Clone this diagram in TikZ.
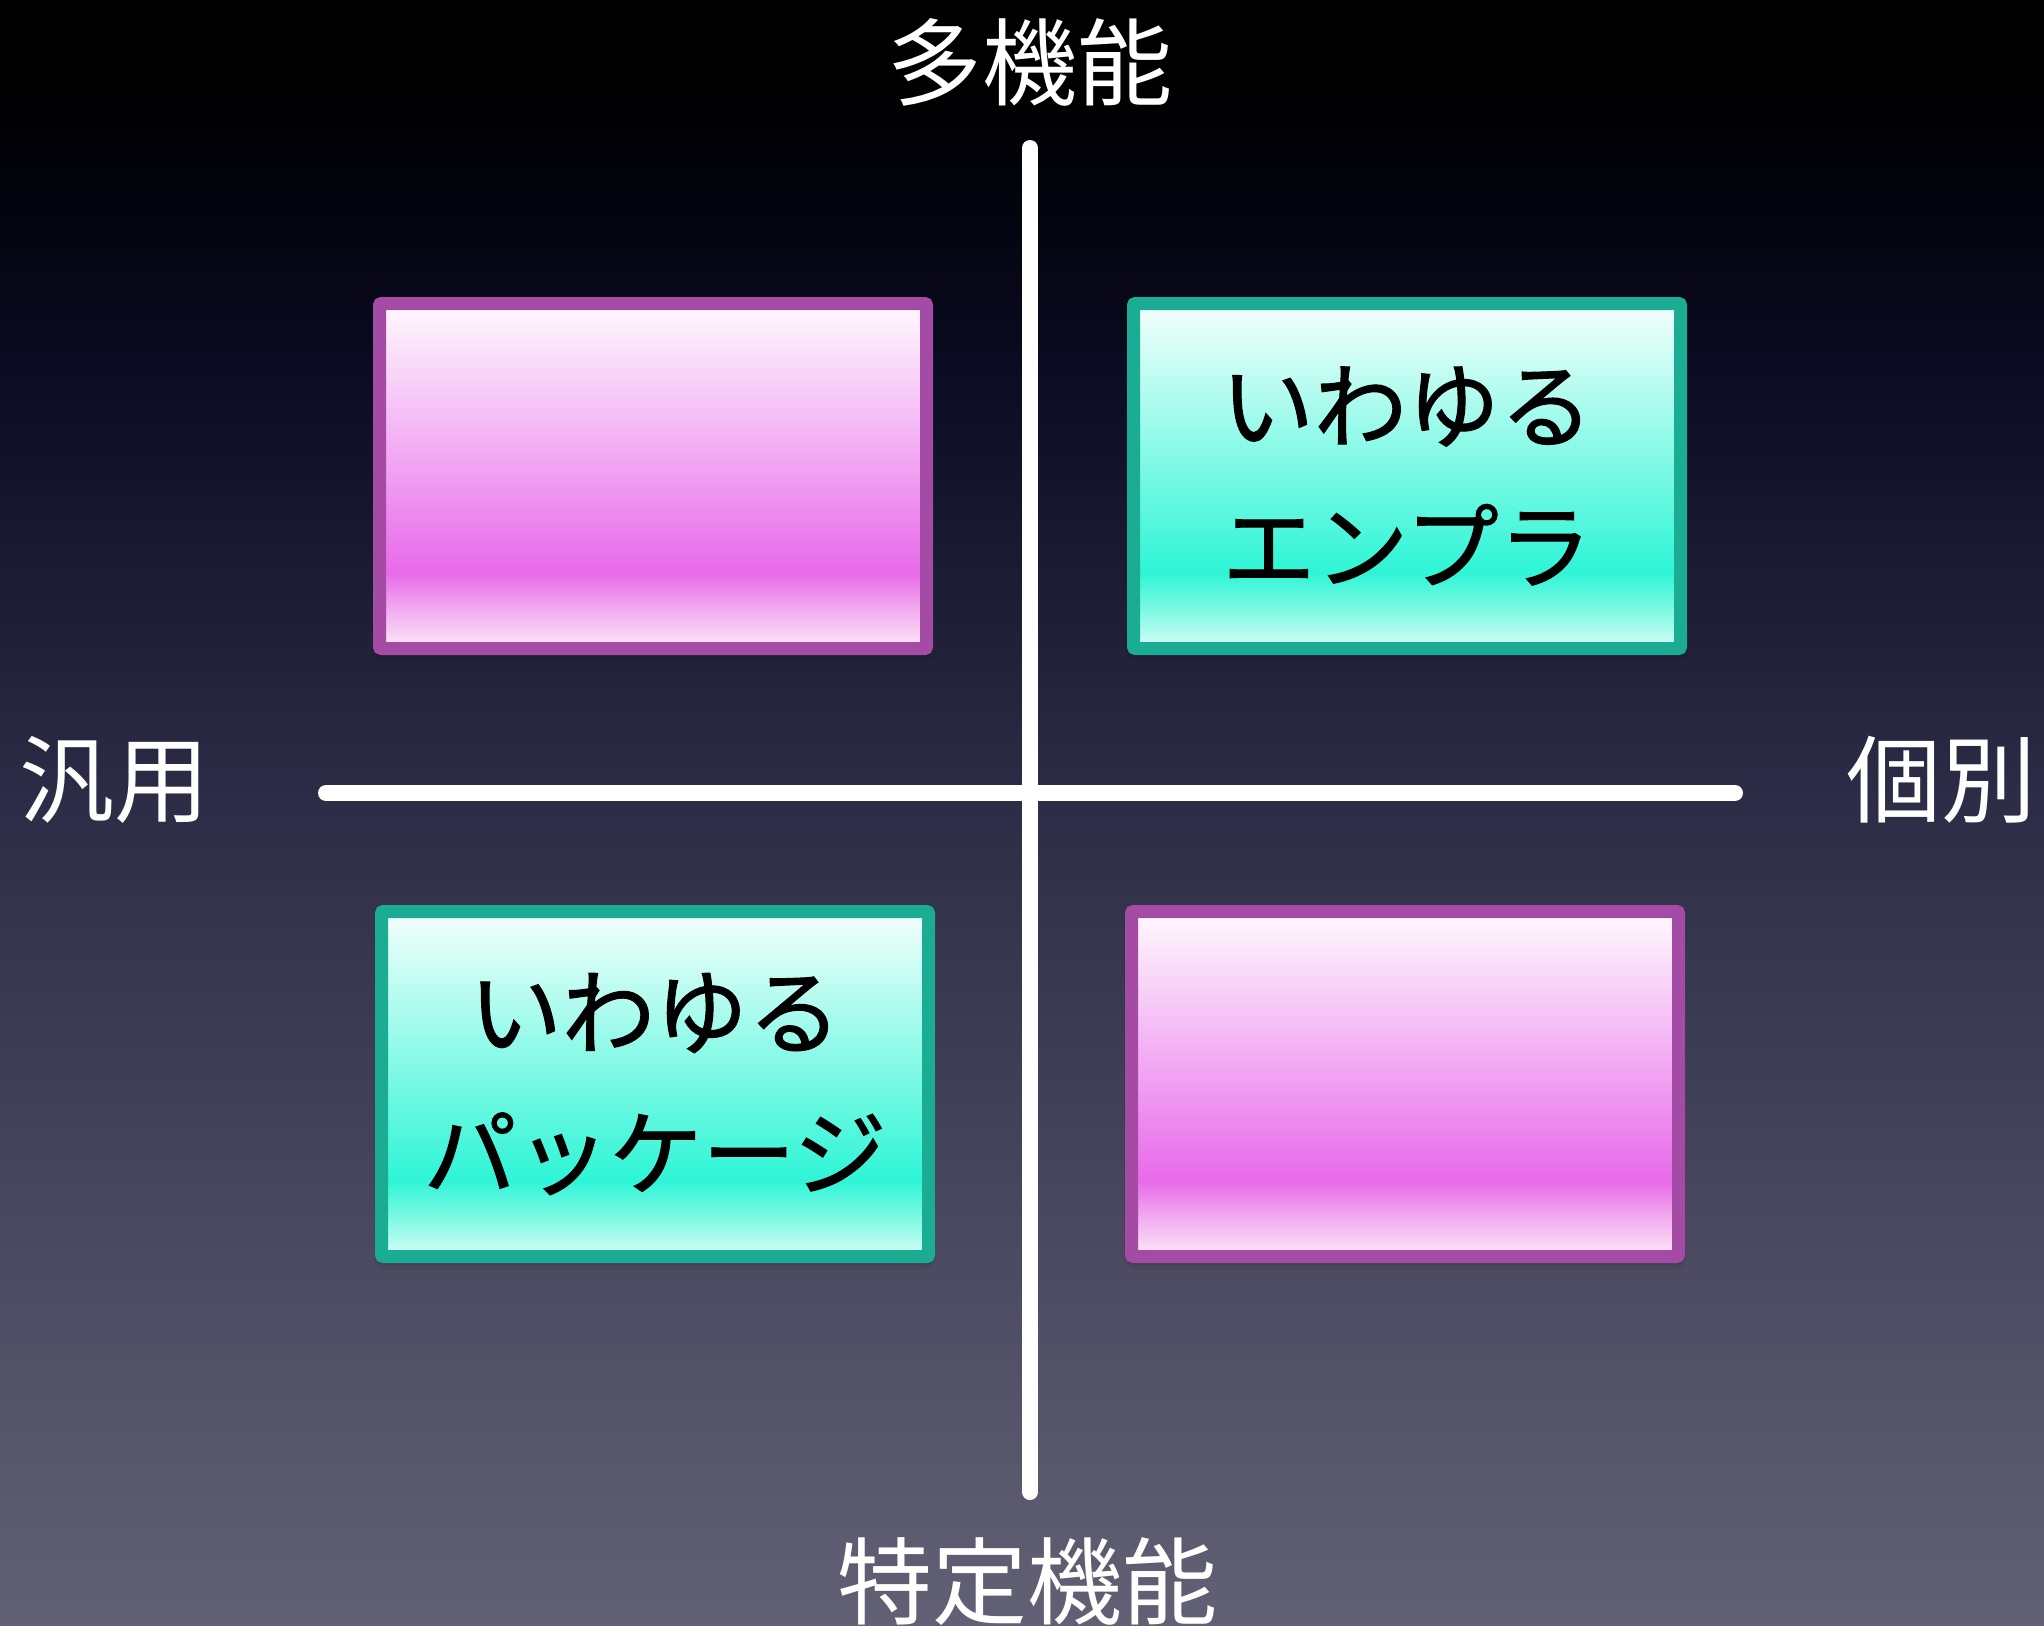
\documentclass[tikz,border=0pt]{standalone}
\usepackage{fontspec}
\newfontfamily\jp{Noto Sans CJK JP}
\newfontfamily\jpbold[FakeBold=1.2]{Noto Sans CJK JP}
\usetikzlibrary{shadows.blur}
\definecolor{bgtop}{HTML}{000000}
\definecolor{bgA}{HTML}{010106}
\definecolor{bgB}{HTML}{0A0A20}
\definecolor{bgC}{HTML}{2C2C46}
\definecolor{bgD}{HTML}{4E4D63}
\definecolor{bgbot}{HTML}{626074}
\definecolor{pinkborder}{HTML}{A44BA6}
\definecolor{pinktop}{HTML}{FFFAFE}
\definecolor{pinkpeak}{HTML}{E86AEA}
\definecolor{pinklow}{HTML}{F0A8EE}
\definecolor{pinkbot}{HTML}{FBEAF9}
\definecolor{tealborder}{HTML}{1BAD93}
\definecolor{tealtop}{HTML}{F5FFFC}
\definecolor{tealpeak}{HTML}{2EF5D6}
\definecolor{teallow}{HTML}{78F8E2}
\definecolor{tealbot}{HTML}{D8FFF6}
\pgfdeclareverticalshading{bggrad}{100bp}{color(0bp)=(bgbot); color(25bp)=(bgbot); color(35bp)=(bgD); color(50.5bp)=(bgC); color(64bp)=(bgB); color(71bp)=(bgA); color(72.5bp)=(bgtop); color(100bp)=(bgtop)}
\pgfdeclareverticalshading{pinkgrad}{100bp}{color(0bp)=(pinkbot); color(25bp)=(pinkbot); color(31bp)=(pinklow); color(36bp)=(pinkpeak); color(75bp)=(pinktop); color(100bp)=(pinktop)}
\pgfdeclareverticalshading{tealgrad}{100bp}{color(0bp)=(tealbot); color(25bp)=(tealbot); color(31bp)=(teallow); color(36bp)=(tealpeak); color(75bp)=(tealtop); color(100bp)=(tealtop)}
\tikzset{
  qbox/.style={minimum width=547pt, minimum height=345pt, inner sep=0pt, outer sep=0pt,
    line width=13pt, rounded corners=2pt, align=center, text=black,
    font=\jpbold\fontsize{93}{141}\selectfont,
    blur shadow={shadow xshift=0pt, shadow yshift=-5pt, shadow blur radius=7pt, shadow opacity=45}},
  pinkbox/.style={qbox, draw=pinkborder, shading=pinkgrad},
  tealbox/.style={qbox, draw=tealborder, shading=tealgrad},
  axisline/.style={draw=white, line width=16pt, line cap=round},
  axlabel/.style={text=white, inner sep=0pt, font=\jp\fontsize{95}{100}\selectfont}
}
\begin{document}
\begin{tikzpicture}[x=1pt,y=-1pt]
\useasboundingbox (0,0) rectangle (2044,1625);
\node[anchor=north west, minimum width=2044pt, minimum height=1625pt, inner sep=0pt, outer sep=0pt, shading=bggrad] (bg) at (0,0) {};
% axes
\coordinate (vtop) at (1030,148);
\coordinate (vbot) at (1030,1492);
\coordinate (hleft) at (326,793);
\coordinate (hright) at (1735,793);
\draw[axisline] (vtop) -- (vbot);
\draw[axisline] (hleft) -- (hright);
% boxes
\node[pinkbox] (tl) at (653,476) {};
\node[tealbox] (tr) at (1407,476) {いわゆる\\エンプラ};
\node[tealbox] (bl) at (655,1084) {いわゆる\\パッケージ};
\node[pinkbox] (br) at (1405,1084) {};
% labels
\node[axlabel] (multi) at (1030,62) {多機能};
\node[axlabel] (special) at (1027,1582) {特定機能};
\node[axlabel] (general) at (114,780) {汎用};
\node[axlabel] (indiv) at (1941,780) {個別};
\end{tikzpicture}
\end{document}
